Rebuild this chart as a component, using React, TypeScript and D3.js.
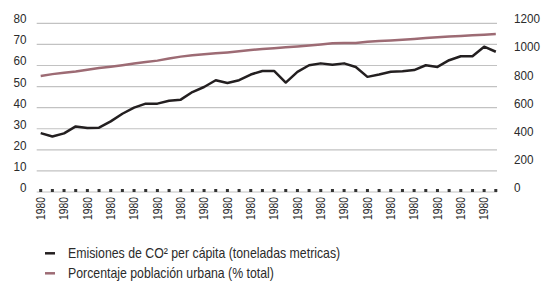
import React, { useEffect, useRef } from 'react';
import * as d3 from 'd3';

// one label per data point, every other one is shown
const years: string[] = Array.from({ length: 40 }, () => '1980');

const co2: number[] = [
  27.9, 26.3, 27.8, 31.1, 30.3, 30.5, 33.5, 37.1, 40.0, 41.9,
  41.9, 43.3, 43.8, 47.4, 49.8, 53.0, 51.7, 53.0, 55.7, 57.4,
  57.4, 51.9, 57.0, 60.1, 61.0, 60.3, 61.0, 59.3, 54.6, 55.7,
  57.0, 57.3, 57.8, 60.1, 59.3, 62.5, 64.4, 64.4, 68.9, 66.5,
];

const urbana: number[] = [
  55.0, 55.9, 56.5, 57.1, 58.0, 58.8, 59.4, 60.1, 60.9, 61.6,
  62.3, 63.3, 64.2, 64.8, 65.3, 65.8, 66.2, 66.7, 67.3, 67.8,
  68.2, 68.6, 69.0, 69.5, 70.0, 70.5, 70.6, 70.7, 71.3, 71.6,
  71.9, 72.2, 72.6, 73.0, 73.4, 73.7, 74.0, 74.3, 74.6, 74.9,
];

const leftTicks = [0, 10, 20, 30, 40, 50, 60, 70, 80];
const rightTicks = [0, 200, 400, 600, 800, 1000, 1200];

const legend = [
  { label: 'Emisiones de CO² per cápita (toneladas metricas)', color: '#231f20' },
  { label: 'Porcentaje población urbana (% total)', color: '#9d6b74' },
];

// no narrow font installed, so squeeze Liberation Sans horizontally
const FONT = '"Liberation Sans", Arial, sans-serif';

const App: React.FC = () => {
  const svgRef = useRef<SVGSVGElement>(null);

  useEffect(() => {
    if (!svgRef.current) return;
    const svg = d3.select(svgRef.current);
    svg.selectAll('*').remove();

    const gridLeft = 36.7;
    const gridRight = 497;

    const x = d3.scalePoint<number>()
      .domain(d3.range(years.length))
      .range([40.7, 495.8]);
    const y = d3.scaleLinear().domain([0, 80]).range([192, 23.3]);
    const y2 = d3.scaleLinear().domain([0, 1200]).range([192, 23.3]);

    // grid
    svg.append('g')
      .selectAll('line')
      .data(leftTicks)
      .join('line')
      .attr('x1', gridLeft)
      .attr('x2', gridRight)
      .attr('y1', d => y(d))
      .attr('y2', d => y(d))
      .attr('stroke', '#c2c2c2')
      .attr('stroke-width', 1.2);

    // left labels
    svg.append('g')
      .selectAll('text')
      .data(leftTicks)
      .join('text')
      .attr('transform', d => `translate(26.5,${y(d)}) scale(0.9,1)`)
      .attr('text-anchor', 'end')
      .attr('font-family', FONT)
      .attr('font-size', 13)
      .attr('fill', '#2b2b2b')
      .text(d => d);

    // right labels
    svg.append('g')
      .selectAll('text')
      .data(rightTicks)
      .join('text')
      .attr('transform', d => `translate(514,${y2(d)}) scale(0.9,1)`)
      .attr('font-family', FONT)
      .attr('font-size', 13)
      .attr('fill', '#2b2b2b')
      .text(d => d);

    // markers on the baseline
    svg.append('g')
      .selectAll('rect')
      .data(years)
      .join('rect')
      .attr('x', (_, i) => x(i)! - 1.5)
      .attr('y', y(0) - 3)
      .attr('width', 3)
      .attr('height', 3)
      .attr('fill', '#333');

    // x labels
    svg.append('g')
      .selectAll('text')
      .data(years.filter((_, i) => i % 2 === 0))
      .join('text')
      .attr('transform', (_, i) => `translate(${x(i * 2)! + 4.2},197) rotate(-90) scale(0.86,1)`)
      .attr('text-anchor', 'end')
      .attr('font-family', FONT)
      .attr('font-size', 12)
      .attr('fill', '#2b2b2b')
      .text(d => d);

    const line = d3.line<number>()
      .x((_, i) => x(i)!)
      .y(d => y(d));

    svg.append('path')
      .attr('d', line(urbana))
      .attr('fill', 'none')
      .attr('stroke', legend[1].color)
      .attr('stroke-width', 2.5);

    svg.append('path')
      .attr('d', line(co2))
      .attr('fill', 'none')
      .attr('stroke', legend[0].color)
      .attr('stroke-width', 2.5)
      .attr('stroke-linejoin', 'round');

    // legend
    const lg = svg.append('g')
      .selectAll('g')
      .data(legend)
      .join('g')
      .attr('transform', (_, i) => `translate(45,${253.3 + i * 20})`);
    lg.append('line')
      .attr('x1', 0)
      .attr('x2', 10)
      .attr('stroke', d => d.color)
      .attr('stroke-width', 2.5);
    lg.append('text')
      .attr('transform', 'translate(23,4.8) scale(0.88,1)')
      .attr('font-family', FONT)
      .attr('font-size', 14)
      .attr('fill', '#2b2b2b')
      .text(d => d.label);
  }, []);

  return (
    <svg
      ref={svgRef}
      width={541}
      height={285}
      style={{ position: 'absolute', top: 0, left: 0, background: '#fff' }}
    />
  );
};

export default App;
